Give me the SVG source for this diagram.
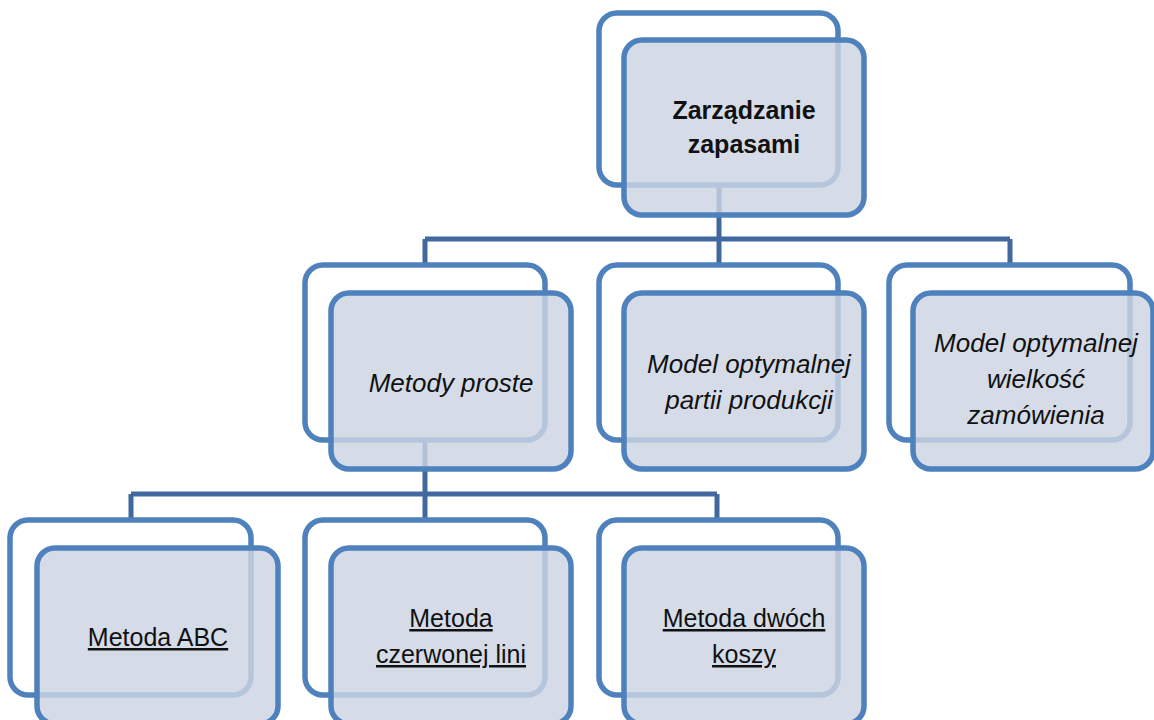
<svg xmlns="http://www.w3.org/2000/svg" width="1154" height="720" viewBox="0 0 1154 720">
<style>
.back{fill:#ffffff;stroke:#4f81bd;stroke-width:5.5}
.front{fill:#ccd4e3;fill-opacity:0.82;stroke:#4f81bd;stroke-width:5.5}
.conn{fill:none;stroke:#41699f;stroke-width:5}
.t{font-family:"Liberation Sans",Arial,sans-serif;fill:#111;text-anchor:middle}
.b{font-size:25px;font-weight:bold}
.i{font-size:26px;font-style:italic}
.u{font-size:25px;text-decoration:underline}
</style>
<rect width="1154" height="720" fill="#ffffff"/>
<g id="connectors">
<path class="conn" d="M719 184 V239 M425 239 H1010 M425 239 V265 M719 239 V265 M1010 239 V265"/>
<path class="conn" d="M425 440 V494 M131 494 H717 M131 494 V520 M425 494 V520 M717 494 V520"/>
</g>
<g id="node-zarzadzanie">
<rect class="back" x="599" y="13" width="239" height="172" rx="18"/>
<rect class="front" x="624" y="40" width="240" height="175" rx="18"/>
<text class="t b" x="744" y="119">Zarządzanie</text>
<text class="t b" x="744" y="153">zapasami</text>
</g>
<g id="node-metody-proste">
<rect class="back" x="305" y="265" width="240" height="175" rx="18"/>
<rect class="front" x="331" y="293" width="240" height="176" rx="18"/>
<text class="t i" x="451" y="392">Metody proste</text>
</g>
<g id="node-model-partii">
<rect class="back" x="599" y="265" width="239" height="175" rx="18"/>
<rect class="front" x="624" y="293" width="240" height="176" rx="18"/>
<text class="t i" x="749" y="373">Model optymalnej</text>
<text class="t i" x="749" y="409">partii produkcji</text>
</g>
<g id="node-model-wielkosc">
<rect class="back" x="889" y="265" width="241" height="175" rx="18"/>
<rect class="front" x="913" y="293" width="240" height="176" rx="18"/>
<text class="t i" x="1036" y="352">Model optymalnej</text>
<text class="t i" x="1036" y="388">wielkość</text>
<text class="t i" x="1036" y="424">zamówienia</text>
</g>
<g id="node-abc">
<rect class="back" x="10" y="520" width="241" height="175" rx="18"/>
<rect class="front" x="37" y="548" width="241" height="176" rx="18"/>
<text class="t u" x="158" y="646">Metoda ABC</text>
</g>
<g id="node-czerwonej">
<rect class="back" x="305" y="520" width="240" height="175" rx="18"/>
<rect class="front" x="331" y="548" width="240" height="176" rx="18"/>
<text class="t u" x="451" y="627">Metoda</text>
<text class="t u" x="451" y="663">czerwonej lini</text>
</g>
<g id="node-dwoch">
<rect class="back" x="599" y="520" width="239" height="175" rx="18"/>
<rect class="front" x="624" y="548" width="240" height="176" rx="18"/>
<text class="t u" x="744" y="627">Metoda dwóch</text>
<text class="t u" x="744" y="663">koszy</text>
</g>
</svg>
